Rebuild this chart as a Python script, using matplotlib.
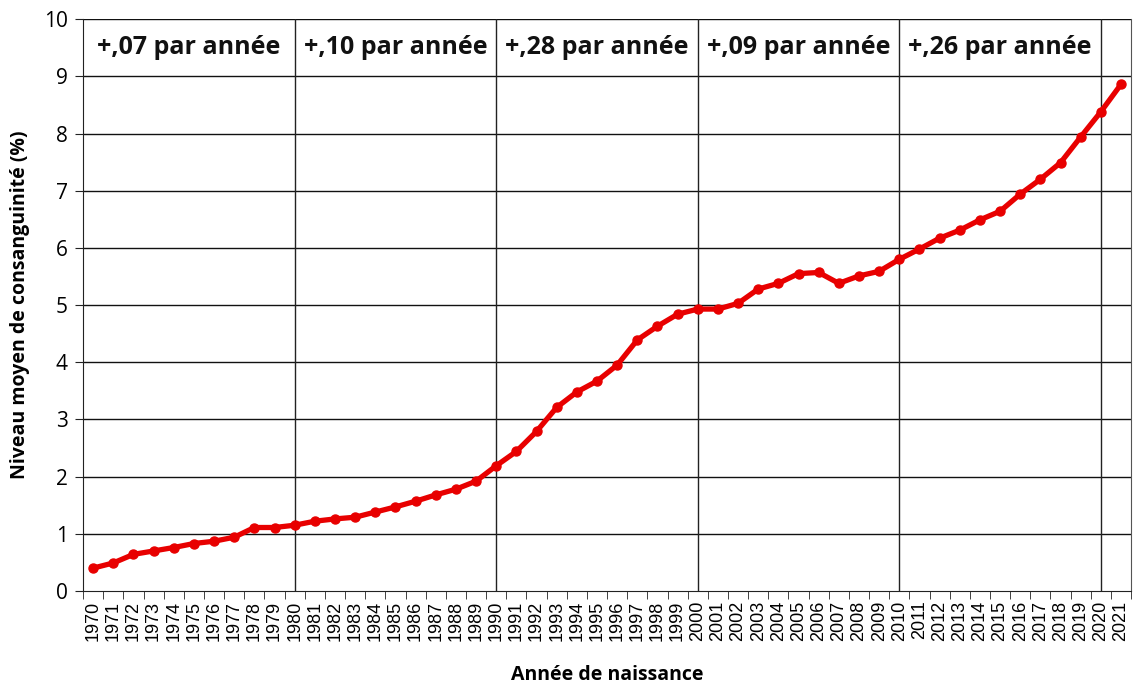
import numpy as np
import matplotlib.pyplot as plt
from matplotlib.ticker import FixedLocator

# data
years = list(range(1970, 2022))
consang = [0.40, 0.49, 0.64, 0.70, 0.76, 0.83, 0.87, 0.94, 1.11, 1.11,
           1.15, 1.22, 1.26, 1.29, 1.38, 1.47, 1.57, 1.68, 1.78, 1.92,
           2.19, 2.44, 2.79, 3.21, 3.48, 3.67, 3.95, 4.39, 4.63, 4.84,
           4.93, 4.93, 5.03, 5.28, 5.38, 5.55, 5.57, 5.38, 5.51, 5.59,
           5.80, 5.98, 6.17, 6.31, 6.49, 6.64, 6.94, 7.20, 7.49, 7.94,
           8.38, 8.86]
period_breaks = [1980, 1990, 2000, 2010, 2020]
period_labels = ["+,07 par année", "+,10 par année", "+,28 par année",
                 "+,09 par année", "+,26 par année"]

x = np.arange(len(years))

fig = plt.figure(figsize=(11.33, 6.84), dpi=100)
ax = fig.add_axes([0.0733, 0.136, 0.925, 0.836])

ax.set_xlim(-0.5, len(years) - 0.5)
ax.set_ylim(0, 10)

# grid
for v in range(1, 11):
    ax.axhline(v, color="#111111", lw=1.0, zorder=1)
idx_breaks = [years.index(b) for b in period_breaks]
for i in idx_breaks:
    ax.axvline(i, color="#222222", lw=1.0, zorder=1)

ax.plot(x, consang, color="#e80000", lw=3.8, marker="o", ms=6.5, zorder=3)

# period annotations, centred in each segment
edges = [-0.5] + idx_breaks
for k, lab in enumerate(period_labels):
    xc = (edges[k] + edges[k + 1]) / 2
    ax.text(xc, 9.5, lab, ha="center", va="center", fontsize=18,
            fontweight="bold", family="Open Sans", color="#111111")

# axes styling
ax.spines["top"].set_visible(False)
ax.spines["right"].set_color("#555555")
ax.spines["left"].set_color("#222222")
ax.spines["bottom"].set_color("#222222")

ax.set_xticks(x)
ax.set_xticklabels([str(y) for y in years], rotation=90, fontsize=13,
                   family="Liberation Sans")
ax.tick_params(axis="x", which="major", length=0, pad=7)
ax.xaxis.set_minor_locator(FixedLocator(np.arange(-0.5, len(years), 1)))
ax.tick_params(axis="x", which="minor", length=6, color="#222222")

ax.set_yticks(range(0, 11))
ax.tick_params(axis="y", length=6, labelsize=15, color="#222222", pad=5)
for t in ax.get_yticklabels():
    t.set_family("Open Sans")

ax.set_ylabel("Niveau moyen de consanguinité (%)", fontsize=14,
              fontweight="bold", family="Open Sans", labelpad=10)
ax.set_xlabel("Année de naissance", fontsize=14, fontweight="bold",
              family="Open Sans", labelpad=17)

fig.savefig("out.png", dpi=100)
